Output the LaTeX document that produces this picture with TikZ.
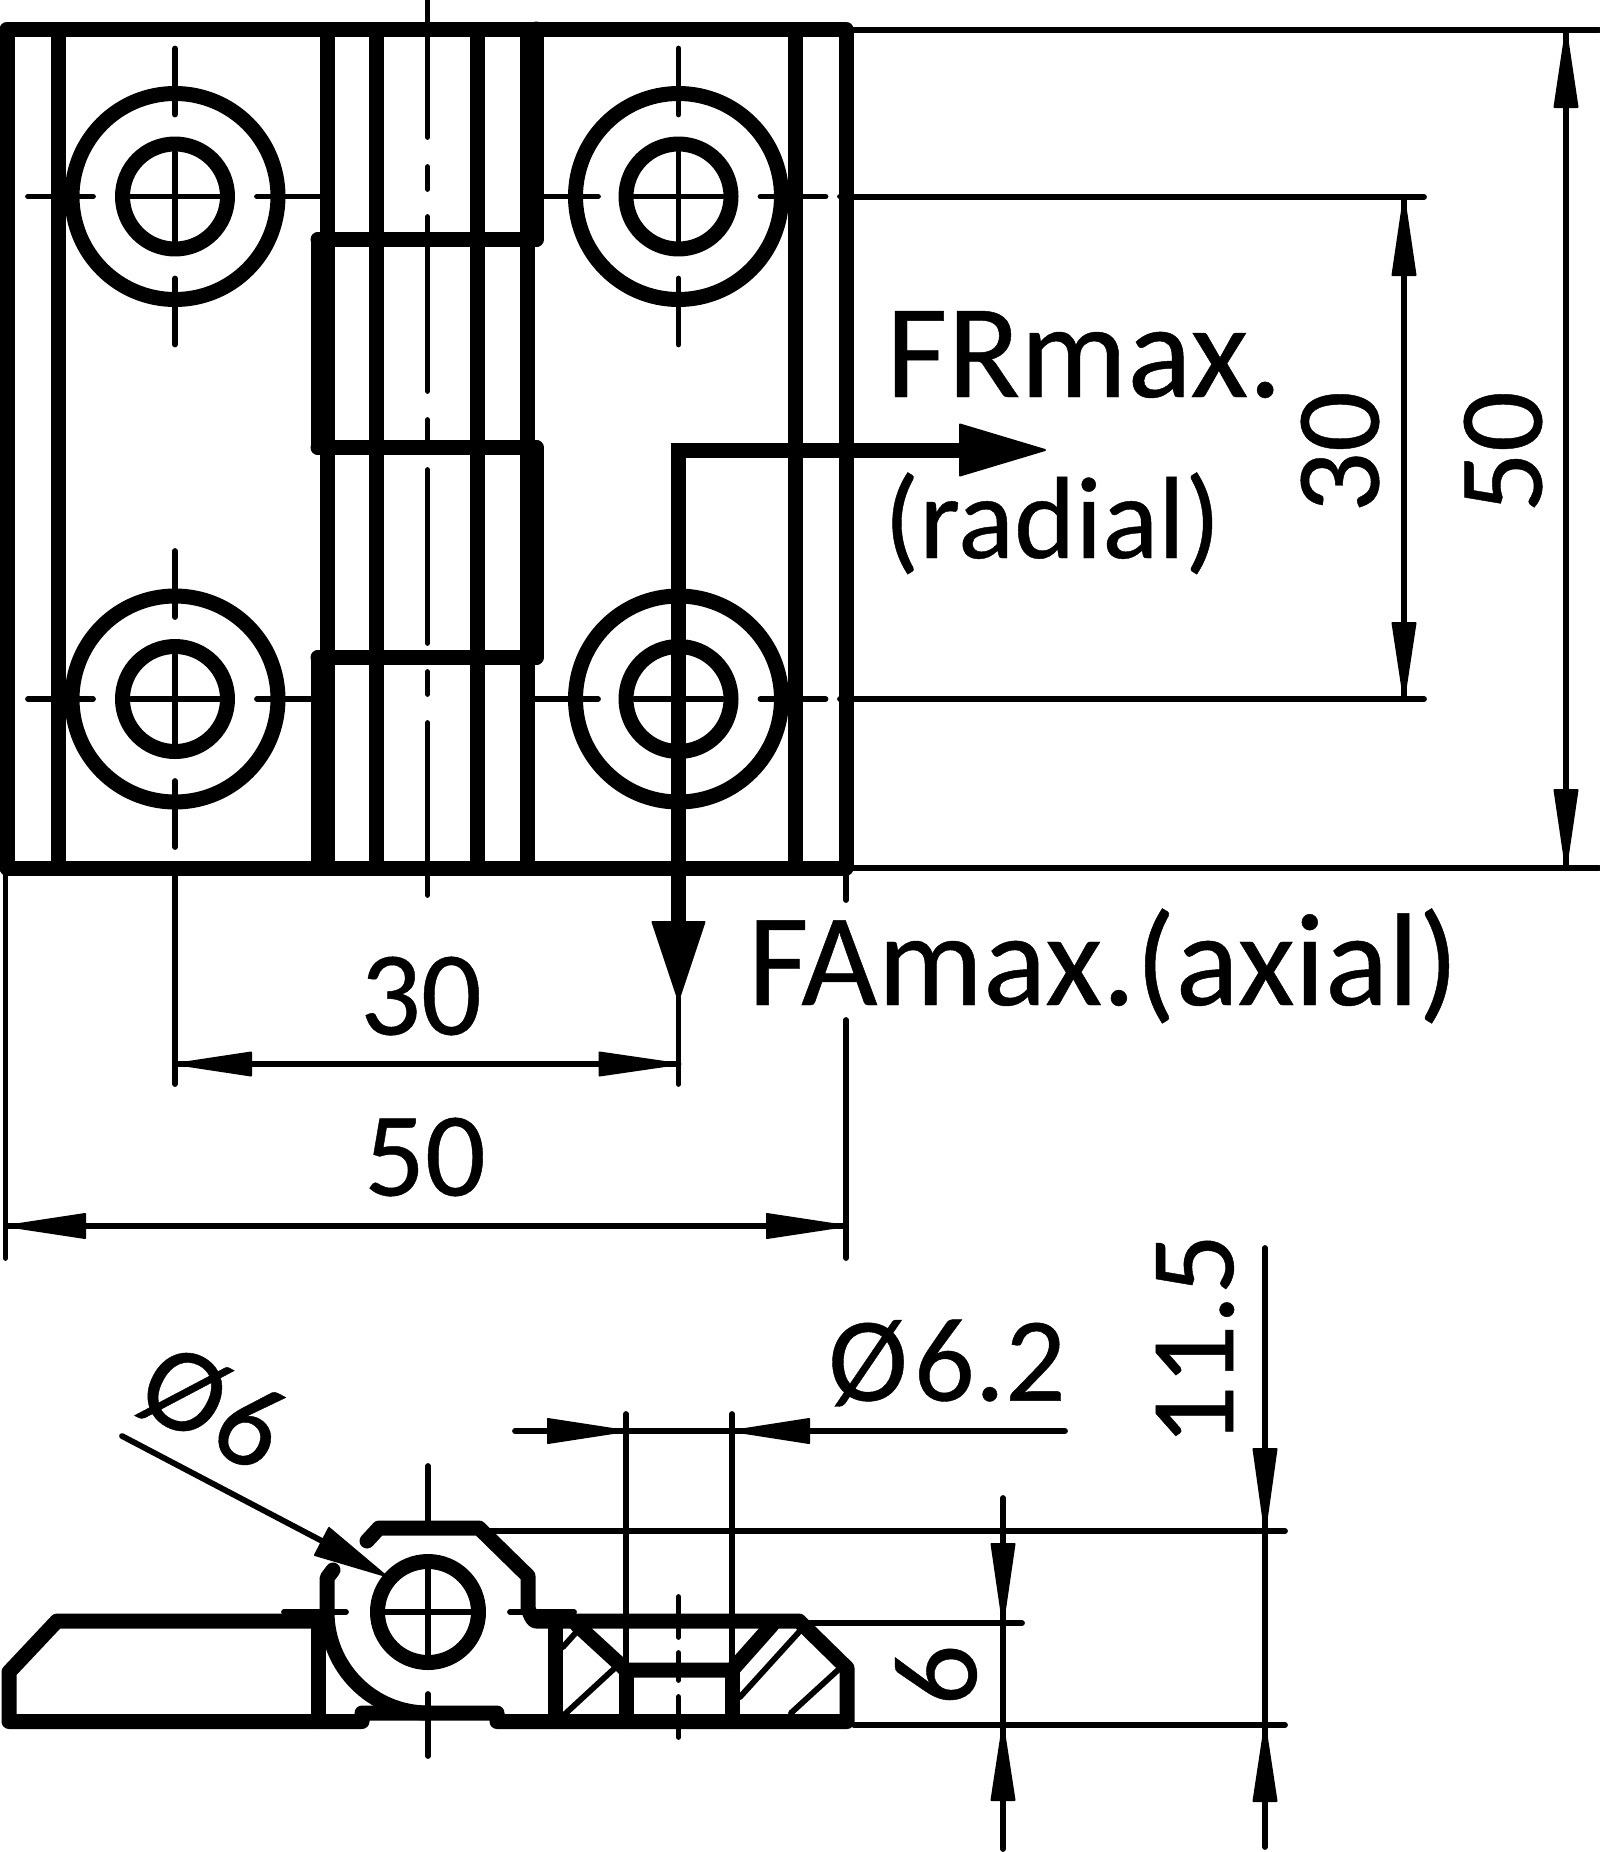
\documentclass[tikz,border=0pt]{standalone}
\usepackage{fontspec}
\setmainfont[FakeBold=0.35]{Carlito}
\tikzset{
  thk/.style={line width=7.5pt,line cap=round,line join=round},
  thn/.style={line width=2.9pt,line cap=round,line join=round},
  lab/.style={inner sep=0pt,outer sep=0pt,font=\fontsize{66pt}{70pt}\selectfont,anchor=base west},
  dimt/.style={inner sep=0pt,outer sep=0pt,font=\fontsize{60pt}{64pt}\selectfont,anchor=center},
  headf/.style={fill=black,draw=black,line width=1pt,line join=round},
}
% arrowhead: tip x,y, direction on canvas (deg), length, half width
\newcommand{\ahead}[5]{\filldraw[headf,shift={(#1,#2)},rotate=#3] (0,0)--(-#4,#5)--(-#4,-#5)--cycle;}
\newcommand{\pcross}[2]{%
  \draw[thk] (#1,#2) circle (103);
  \draw[thk] (#1,#2) circle (52.5);
  \draw[thn] (#1,#2-148)--(#1,#2-82) (#1,#2-44)--(#1,#2+45) (#1,#2+82)--(#1,#2+148);
  \draw[thn] (#1-147,#2)--(#1-82,#2) (#1-44,#2)--(#1+44,#2);
  \draw[thn] (#1+82,#2)--(#1+147,#2);
}
\begin{document}
\begin{tikzpicture}[x=0.5pt,y=-0.5pt]
\useasboundingbox (0,0) rectangle (1600,1852);
% ---------- plan view: plates
\draw[thk] (7,29)--(846,29);
\draw[thk] (7,868)--(846,868);
\foreach \x in {7,58,327,376.5,477,527,795,846} \draw[thk,line cap=butt] (\x,29)--(\x,868);
\draw[thk] (318,239.5)--(318,447.5);
\draw[thk] (318,657.5)--(318,868);
\draw[thk] (536,29)--(536,239.5);
\draw[thk] (536,447.5)--(536,657.5);
\draw[thk] (318,239.5)--(536,239.5);
\draw[thk] (318,447.5)--(536,447.5);
\draw[thk] (318,657.5)--(536,657.5);
% circles and their centre lines
\pcross{175}{196.5}
\pcross{678.5}{196.5}
\pcross{175}{699}
\pcross{678.5}{699}
\draw[thn] (286,196.5)--(320,196.5) (286,699)--(311,699);
\draw[thn] (543,196.5)--(598,196.5) (534,699)--(598,699);
\draw[thn] (840,196.5)--(853,196.5) (840,699)--(853,699);
% pin axis
\draw[thn] (427.5,0)--(427.5,137) (427.5,167)--(427.5,189) (427.5,217)--(427.5,391) (427.5,420)--(427.5,442)
  (427.5,470)--(427.5,643) (427.5,672)--(427.5,694) (427.5,723)--(427.5,895);
% extension and dimension lines, right
\draw[thn] (853,30)--(1599,30) (853,868)--(1599,868);
\draw[thn] (853,197)--(1424,197) (853,699)--(1424,699);
\draw[thn] (1404,197)--(1404,699);
\draw[thn] (1566,30)--(1566,868);
\ahead{1404}{197}{90}{78}{11.5}
\ahead{1404}{699}{-90}{76}{11.5}
\ahead{1566}{30}{90}{77}{11.5}
\ahead{1566}{868}{-90}{78}{11.5}
% bottom dims
\draw[thn] (5.5,875)--(5.5,1258);
\draw[thn] (175,875)--(175,1084);
\draw[thn] (678.5,998)--(678.5,1084);
\draw[thn] (846,875)--(846,900) (846,1020)--(846,1258);
\draw[thn] (175,1064)--(678.5,1064);
\draw[thn] (6,1226)--(846,1226);
\ahead{175}{1064}{180}{76}{11.5}
\ahead{678.5}{1064}{0}{79}{11.5}
\ahead{6}{1226}{180}{79}{12}
\ahead{846}{1226}{0}{79}{12}
% forces
\draw[line width=7.5pt] (960,450)--(678.5,450)--(678.5,922);
\ahead{1045}{450}{0}{85}{25.5}
\ahead{678.5}{1000}{-90}{78}{26}
% ---------- side view
\draw[thk] (318,1621)--(57,1621)--(9,1672)--(9,1721.5)--(362,1721.5)--(362,1713)--(497,1713)--(497,1721.5)--(847,1721.5)--(847,1668)--(799,1621)--(536,1621) to[out=180,in=90] (528,1610)--(528,1576)--(479,1528)--(379,1528)--(367,1541);
\draw[thk] (318,1621)--(318,1721.5);
\draw[thk] (333,1570)--(327,1578)--(327,1612) arc[start angle=180,end angle=90,radius=101];
\draw[thk] (428,1612) circle (50.5);
\draw[thk] (555,1621)--(555,1721.5);
\draw[thk] (577,1625)--(626,1670)--(732,1670)--(772,1625);
\draw[thk] (626,1670)--(626,1721.5);
\draw[thk] (732,1670)--(732,1721.5);
% hatching
\draw[thn] (563,1647)--(580,1628) (565,1714)--(617,1666) (740,1697)--(799,1632) (791,1713)--(838,1670);
% centre lines
\draw[thn] (428,1466)--(428,1528) (428,1568)--(428,1656) (428,1694)--(428,1756);
\draw[thn] (284,1612)--(346,1612) (385,1612)--(471,1612) (510,1612)--(574,1612);
\draw[thn] (678.5,1597)--(678.5,1637) (678.5,1653)--(678.5,1680) (678.5,1697)--(678.5,1737);
% extension lines
\draw[thn] (479,1531)--(1285,1531);
\draw[thn] (801,1623)--(1022,1623);
\draw[thn] (854,1725)--(1285,1725);
\draw[thn] (626,1414)--(626,1662) (732,1414)--(732,1662);
\draw[thn] (515,1431)--(1065,1431);
\ahead{626}{1431}{0}{78}{12}
\ahead{732}{1431}{180}{77}{12}
\draw[thn] (1003,1498)--(1003,1849);
\ahead{1003}{1623}{-90}{79}{11.5}
\ahead{1003}{1725}{90}{75}{11.5}
\draw[thn] (1265,1248)--(1265,1847);
\ahead{1265}{1531}{-90}{82}{11.5}
\ahead{1265}{1725}{90}{76}{11.5}
% leader
\coordinate (ldrA) at (122,1436);
\coordinate (ldrB) at (322,1541);
\draw[thn] (ldrA)--(ldrB);
\filldraw[headf] (386,1576)--(329,1528)--(315,1555)--cycle;
% ---------- texts
\node[lab,font=\fontsize{67pt}{70pt}\selectfont] (fr) at (886,397) {FRmax.};
\node[lab,font=\fontsize{58.5pt}{60pt}\selectfont] (rad) at (884,558) {(radial)};
\node[lab] (fa) at (748,1005) {FAmax.(axial)};
\node[dimt] (d30h) at (421,996) {30};
\node[dimt] (d50h) at (425,1157) {50};
\node[dimt,rotate=90] (d30v) at (1340,452) {30};
\node[dimt,rotate=90] (d50v) at (1503,452) {50};
\node[dimt,rotate=90] (d6) at (936,1675) {6};
\node[dimt,rotate=90] (d115) at (1195,1340) {11.5};
\node[dimt] (d62) at (947,1363) {Ø\hspace{3pt}6.2};
\node[dimt,rotate=-28] (d6d) at (213,1408) {Ø\hspace{2pt}6};
\end{tikzpicture}
\end{document}
